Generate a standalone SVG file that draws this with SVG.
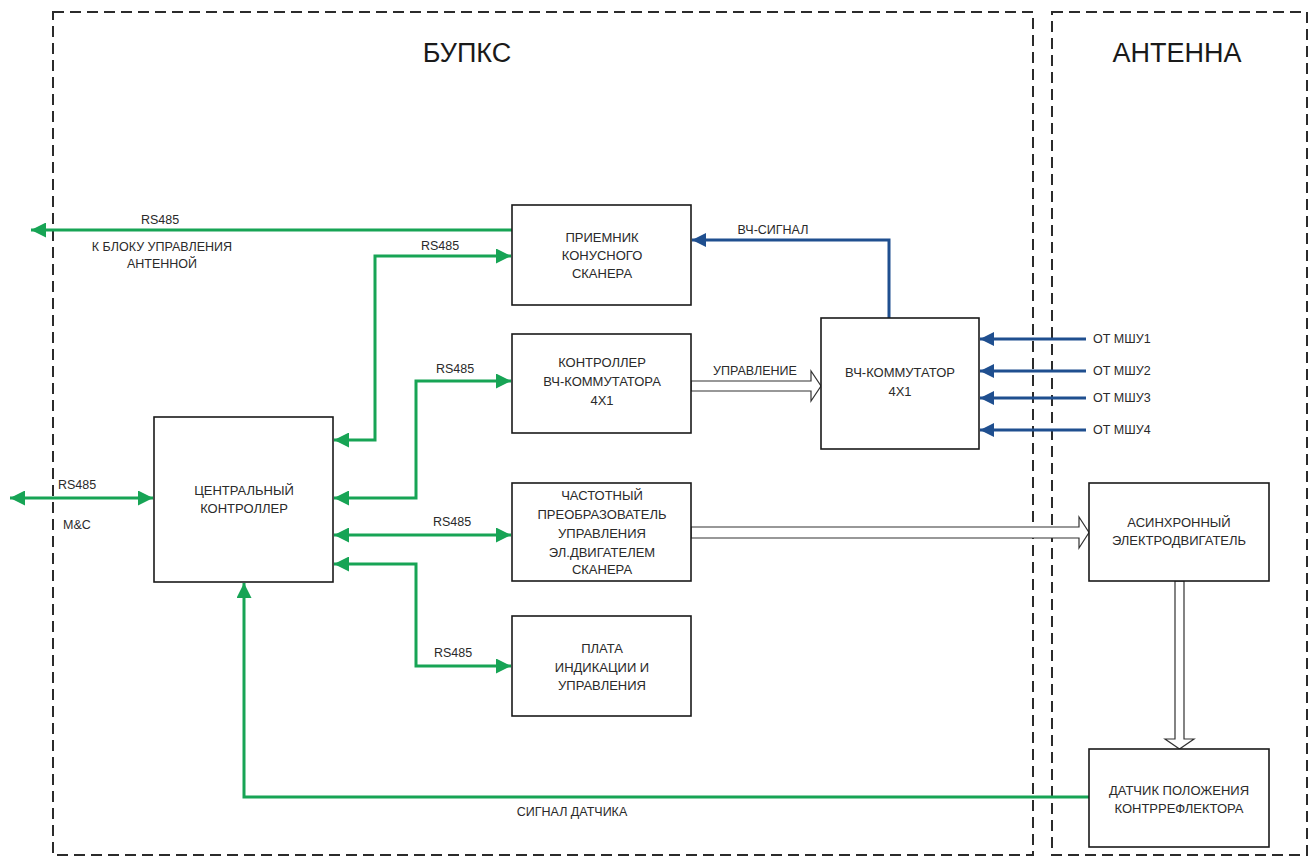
<svg xmlns="http://www.w3.org/2000/svg" width="1313" height="857" viewBox="0 0 1313 857">
<style>
.frame{fill:none;stroke:#2b2b2b;stroke-width:2;stroke-dasharray:11 6}
.box{fill:#fff;stroke:#1a1a1a;stroke-width:1.6}
.t{font-family:"Liberation Sans",Arial,sans-serif;font-size:13px;fill:#2a2a2a;text-anchor:middle}
.lbl{font-family:"Liberation Sans",Arial,sans-serif;font-size:12.5px;fill:#2a2a2a}
.title{font-family:"Liberation Sans",Arial,sans-serif;font-size:27px;fill:#1a1a1a;text-anchor:middle}
.g{fill:none;stroke:#17a455;stroke-width:3}
.b{fill:none;stroke:#1f4f8f;stroke-width:3}
.hollow{fill:#fff;stroke:#333;stroke-width:1.2}
</style>
<defs>
<marker id="ag" viewBox="0 0 10 10" refX="10" refY="5" markerWidth="15" markerHeight="15" markerUnits="userSpaceOnUse" orient="auto-start-reverse"><path d="M0,0 L10,5 L0,10 z" fill="#17a455"/></marker>
<marker id="ab" viewBox="0 0 10 10" refX="10" refY="5" markerWidth="14" markerHeight="14" markerUnits="userSpaceOnUse" orient="auto-start-reverse"><path d="M0,0 L10,5 L0,10 z" fill="#1f4f8f"/></marker>
</defs>

<g id="frame-bupks">
<rect class="frame" x="53" y="12" width="980" height="843"/>
<text class="title" x="467" y="62">БУПКС</text>
</g>
<g id="frame-antenna">
<rect class="frame" x="1052" y="12" width="255" height="843"/>
<text class="title" x="1177" y="62">АНТЕННА</text>
</g>

<g id="connectors">
<path class="g" d="M512 230 H31" marker-end="url(#ag)"/>
<path class="g" d="M334 440 H375 V256 H511" marker-start="url(#ag)" marker-end="url(#ag)"/>
<path class="g" d="M334 498 H416 V381 H511" marker-start="url(#ag)" marker-end="url(#ag)"/>
<path class="g" d="M334 535 H511" marker-start="url(#ag)" marker-end="url(#ag)"/>
<path class="g" d="M334 564 H416 V666 H511" marker-start="url(#ag)" marker-end="url(#ag)"/>
<path class="g" d="M10 498 H153" marker-start="url(#ag)" marker-end="url(#ag)"/>
<path class="g" d="M1089 797 H244 V583" marker-end="url(#ag)"/>

<path class="b" d="M889 318 V240 H692" marker-end="url(#ab)"/>
<path class="b" d="M1086 339 H980" marker-end="url(#ab)"/>
<path class="b" d="M1086 371 H980" marker-end="url(#ab)"/>
<path class="b" d="M1086 398 H980" marker-end="url(#ab)"/>
<path class="b" d="M1086 430 H980" marker-end="url(#ab)"/>

<polygon class="hollow" points="691,381 811,381 811,371 821,386 811,401 811,391 691,391"/>
<polygon class="hollow" points="691,527 1079,527 1079,517 1089,532.5 1079,548 1079,538 691,538"/>
<polygon class="hollow" points="1175,581 1175,739 1165,739 1179.5,749 1194,739 1184,739 1184,581"/>

<text class="lbl" x="160" y="224" text-anchor="middle">RS485</text>
<text class="lbl" x="162" y="251" text-anchor="middle">К БЛОКУ УПРАВЛЕНИЯ</text>
<text class="lbl" x="162" y="268" text-anchor="middle">АНТЕННОЙ</text>
<text class="lbl" x="440" y="250" text-anchor="middle">RS485</text>
<text class="lbl" x="455" y="373" text-anchor="middle">RS485</text>
<text class="lbl" x="452" y="526" text-anchor="middle">RS485</text>
<text class="lbl" x="453" y="657" text-anchor="middle">RS485</text>
<text class="lbl" x="58" y="489">RS485</text>
<text class="lbl" x="63" y="529">M&amp;C</text>
<text class="lbl" x="572" y="816" text-anchor="middle">СИГНАЛ ДАТЧИКА</text>
<text class="lbl" x="773" y="234" text-anchor="middle">ВЧ-СИГНАЛ</text>
<text class="lbl" x="755" y="375" text-anchor="middle">УПРАВЛЕНИЕ</text>
<text class="lbl" x="1093" y="343">ОТ МШУ1</text>
<text class="lbl" x="1093" y="375">ОТ МШУ2</text>
<text class="lbl" x="1093" y="402">ОТ МШУ3</text>
<text class="lbl" x="1093" y="434">ОТ МШУ4</text>
</g>

<g id="node-priemnik">
<rect class="box" x="512" y="205" width="179" height="100"/>
<text class="t" x="602" y="242">ПРИЕМНИК</text>
<text class="t" x="602" y="260">КОНУСНОГО</text>
<text class="t" x="602" y="278">СКАНЕРА</text>
</g>
<g id="node-kontroller-vch">
<rect class="box" x="512" y="334" width="179" height="99"/>
<text class="t" x="602" y="367">КОНТРОЛЛЕР</text>
<text class="t" x="602" y="386">ВЧ-КОММУТАТОРА</text>
<text class="t" x="602" y="405">4Х1</text>
</g>
<g id="node-vch-kommutator">
<rect class="box" x="821" y="318" width="158" height="131"/>
<text class="t" x="900" y="377">ВЧ-КОММУТАТОР</text>
<text class="t" x="900" y="396">4Х1</text>
</g>
<g id="node-central">
<rect class="box" x="154" y="417" width="179" height="165"/>
<text class="t" x="244" y="495">ЦЕНТРАЛЬНЫЙ</text>
<text class="t" x="244" y="513">КОНТРОЛЛЕР</text>
</g>
<g id="node-chastotny">
<rect class="box" x="512" y="483" width="179" height="98"/>
<text class="t" x="602" y="500">ЧАСТОТНЫЙ</text>
<text class="t" x="602" y="519">ПРЕОБРАЗОВАТЕЛЬ</text>
<text class="t" x="602" y="538">УПРАВЛЕНИЯ</text>
<text class="t" x="602" y="557">ЭЛ.ДВИГАТЕЛЕМ</text>
<text class="t" x="602" y="574">СКАНЕРА</text>
</g>
<g id="node-plata">
<rect class="box" x="512" y="616" width="179" height="100"/>
<text class="t" x="602" y="653">ПЛАТА</text>
<text class="t" x="602" y="672">ИНДИКАЦИИ И</text>
<text class="t" x="602" y="690">УПРАВЛЕНИЯ</text>
</g>
<g id="node-asinhronny">
<rect class="box" x="1089" y="483" width="180" height="98"/>
<text class="t" x="1179" y="527">АСИНХРОННЫЙ</text>
<text class="t" x="1179" y="545">ЭЛЕКТРОДВИГАТЕЛЬ</text>
</g>
<g id="node-datchik">
<rect class="box" x="1089" y="749" width="180" height="98"/>
<text class="t" x="1179" y="795">ДАТЧИК ПОЛОЖЕНИЯ</text>
<text class="t" x="1179" y="813">КОНТРРЕФЛЕКТОРА</text>
</g>
</svg>
